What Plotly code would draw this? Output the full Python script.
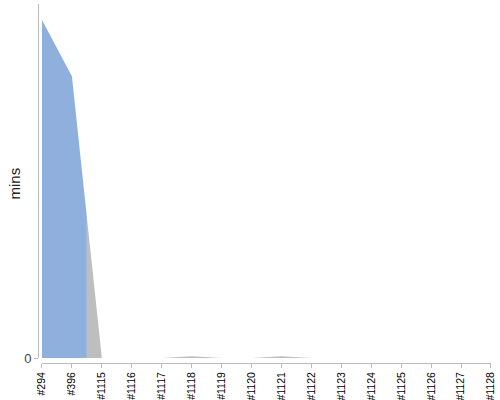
import plotly.graph_objects as go

builds = ["#294", "#396", "#1115", "#1116", "#1117", "#1118", "#1119", "#1120",
          "#1121", "#1122", "#1123", "#1124", "#1125", "#1126", "#1127", "#1128"]
mins = [60, 50, 0, 0, 0, 0.3, 0, 0, 0.3, 0, 0, 0, 0, 0, 0, 0]
highlight = [True, True] + [False] * 14

blue = "rgb(143,176,220)"
grey = "rgb(190,190,190)"

# each point owns the stretch of area up to the midpoints with its neighbours
xs = list(range(len(builds)))
fig = go.Figure()
for flag, color in [(True, blue), (False, grey)]:
    idx = [i for i in xs if highlight[i] == flag]
    lo, hi = min(idx), max(idx)
    px, py = [], []
    if lo > 0:
        px.append(lo - 0.5)
        py.append((mins[lo - 1] + mins[lo]) / 2)
    for i in range(lo, hi + 1):
        px.append(i)
        py.append(mins[i])
    if hi < len(builds) - 1:
        px.append(hi + 0.5)
        py.append((mins[hi] + mins[hi + 1]) / 2)
    fig.add_trace(go.Scatter(x=px, y=py, mode="lines", fill="tozeroy",
                             fillcolor=color, line=dict(width=0, color=color),
                             hoverinfo="skip", showlegend=False))

fig.update_layout(
    width=500, height=400,
    margin=dict(l=38, r=9, t=4, b=37),
    plot_bgcolor="white", paper_bgcolor="white",
    font=dict(family="Liberation Sans, Arial, sans-serif", color="#000"),
    xaxis=dict(domain=[0.0088, 1], range=[0, 15.0001], anchor="free", position=0,
               tickvals=xs, ticktext=builds, tickangle=-90, automargin=False,
               showgrid=False, zeroline=False, showline=True,
               linecolor="#bbb", linewidth=1, ticks="outside", ticklen=4,
               tickcolor="#bbb", tickfont=dict(size=10.5, color="#000")),
    yaxis=dict(domain=[0.0139, 1], range=[0, 62.84], anchor="free", position=0,
               tickvals=[0], ticktext=["0"], showgrid=False, zeroline=False,
               showline=True, linecolor="#bbb", linewidth=1, ticks="outside",
               ticklen=4, tickcolor="#bbb", automargin=False,
               tickfont=dict(size=13, color="#444")),
    annotations=[dict(text="mins", xref="paper", yref="paper", x=0, y=0.5,
                      xanchor="center", yanchor="middle", xshift=-24,
                      textangle=-90, showarrow=False,
                      font=dict(size=15, color="#222"))],
)

fig.write_html("out.html", config={"displayModeBar": False},
               post_script="document.body.style.margin='0';")
